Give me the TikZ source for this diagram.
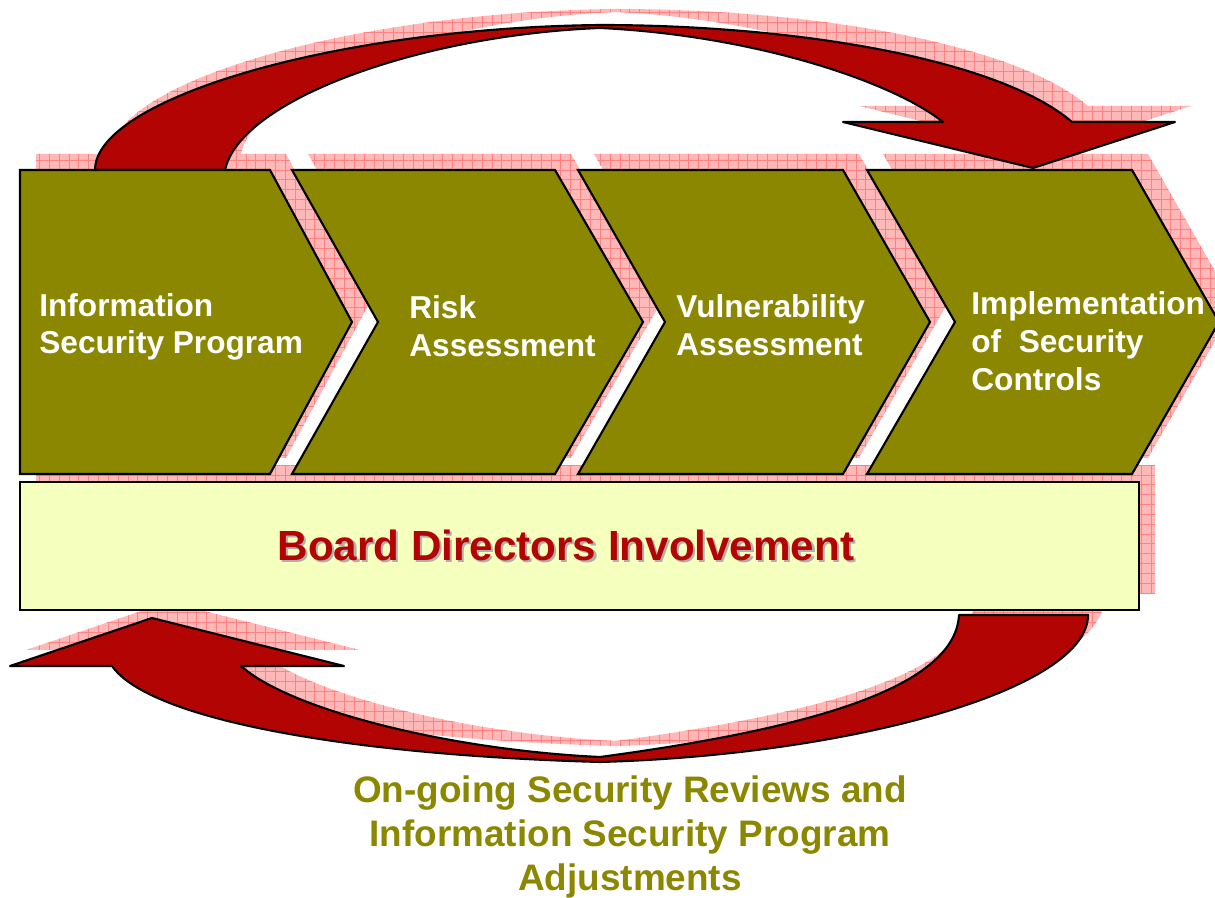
\documentclass[tikz,border=0pt]{standalone}
\usepackage{fontspec}
\setmainfont{Liberation Sans}
\usetikzlibrary{patterns.meta}

\definecolor{olivefill}{RGB}{139,135,0}
\definecolor{arrowred}{RGB}{179,4,4}
\definecolor{boardfill}{RGB}{245,255,190}
\definecolor{shpink}{RGB}{255,184,184}
\definecolor{shline}{RGB}{255,128,128}
\definecolor{txtshadow}{RGB}{175,175,175}

% outlines of the drawn shapes (pixel-like units)
\def\chevA{(20,170) -- (270,170) -- (352,322) -- (270,474) -- (20,474) -- cycle}
\def\chevB{(292,170) -- (555,170) -- (643,322) -- (555,474) -- (292,474) -- (378,322) -- cycle}
\def\chevC{(578,170) -- (843,170) -- (930,322) -- (843,474) -- (578,474) -- (665,322) -- cycle}
\def\chevD{(867,170) -- (1132,170) -- (1219,322) -- (1132,474) -- (867,474) -- (955,322) -- cycle}
\def\boardbox{(20,482) rectangle (1139,610)}
\def\toparrow{(95,170) .. controls (95,100) and (330,28) .. (600,25)
  .. controls (800,25) and (1000,60) .. (1072,122)
  -- (1175,122) -- (1033,168) -- (843,122) -- (943,122)
  .. controls (890,80) and (750,35) .. (600,28)
  .. controls (420,35) and (240,100) .. (225,170) -- cycle}
\def\botarrow{(959,615) -- (1088,615)
  .. controls (1088,690) and (850,755) .. (600,762)
  .. controls (350,755) and (150,720) .. (112,666)
  -- (10,666) -- (152,618) -- (344,666) -- (241,666)
  .. controls (290,710) and (450,750) .. (600,757)
  .. controls (800,730) and (955,690) .. (959,615) -- cycle}

% board caption with its soft grey drop shadow, set as one box
\newcommand\boardcaption[1]{%
  \makebox[0pt][l]{\kern1.2pt\raisebox{-1.2pt}{\textcolor{txtshadow}{#1}}}%
  \textcolor{arrowred}{#1}}

\tikzset{
  shadowfill/.style={fill=shpink, shift={(16,-16)},
    postaction={pattern={Lines[distance=5.6pt,angle=0,line width=0.4pt]}, pattern color=shline},
    postaction={pattern={Lines[distance=5.6pt,angle=90,line width=0.4pt]}, pattern color=shline}},
  chevron/.style={fill=olivefill, draw=black, line width=1.2pt},
  bigarrow/.style={fill=arrowred, draw=black, line width=1.2pt, line join=round},
  boardstyle/.style={fill=boardfill, draw=black, line width=1.2pt},
  steptext/.style={anchor=west, inner sep=0pt, align=left, text=white,
    font=\fontsize{18}{21.5}\selectfont\bfseries},
  boardtext/.style={inner sep=0pt, font=\fontsize{24}{28}\selectfont\bfseries},
  reviewtext/.style={inner sep=0pt, align=center, text=olivefill,
    font=\fontsize{21}{25.2}\selectfont\bfseries}
}

\begin{document}
\begin{tikzpicture}[x=0.02cm, y=-0.02cm]
\useasboundingbox (0,0) rectangle (1215,898);

% hatched drop shadows
\path[shadowfill] \toparrow;
\path[shadowfill] \botarrow;
\path[shadowfill] \boardbox;
\path[shadowfill] \chevA;
\path[shadowfill] \chevB;
\path[shadowfill] \chevC;
\path[shadowfill] \chevD;

% curved feedback arrows
\draw[bigarrow] \toparrow;
\draw[bigarrow] \botarrow;

% process steps
\draw[chevron] \chevA;
\draw[chevron] \chevB;
\draw[chevron] \chevC;
\draw[chevron] \chevD;

% board band
\draw[boardstyle] \boardbox;

% labels
\node[steptext] (isp) at (39,327) {Information\\Security Program};
\node[steptext] (risk) at (409,326) {Risk\\Assessment};
\node[steptext] (vuln) at (676,325) {Vulnerability\\Assessment};
\node[steptext] (impl) at (971,341) {Implementation\\of\ \ Security\\Controls};

\node[boardtext] (board) at (566,546) {\boardcaption{Board Directors Involvement}};

\node[reviewtext] (review) at (630,837) {On-going Security Reviews and\\Information Security Program\\Adjustments};
\end{tikzpicture}
\end{document}
